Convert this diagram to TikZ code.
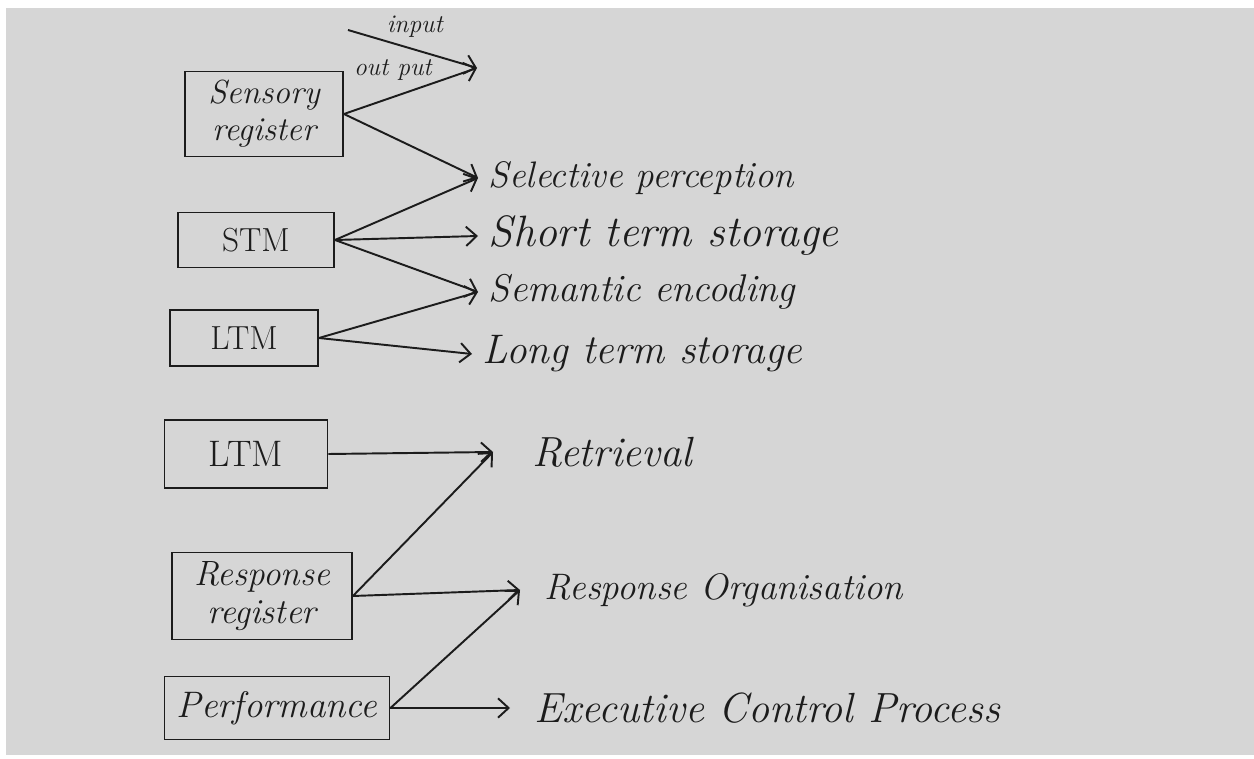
\documentclass[tikz,border=0pt]{standalone}
\usepackage{amsmath}
\usepackage{xcolor}
\usetikzlibrary{arrows.meta}
\definecolor{paper}{RGB}{214,214,214}
\definecolor{ink}{RGB}{28,28,28}
\begin{document}
\begin{tikzpicture}[x=0.02cm,y=-0.02cm,
  box/.style={draw=ink,line width=1.1pt,inner sep=2pt,align=center,text=ink},
  lab/.style={anchor=west,inner sep=2pt,inner xsep=6pt,text=ink},
  tag/.style={inner sep=1pt,text=ink,font=\fontsize{14.5}{17}\selectfont\itshape},
  arr/.style={-{Straight Barb[length=6pt,width=11pt]},line width=1.1pt,draw=ink}]
%\draw[step=50,gray,very thin] (0,0) grid (1254,759); %background grid
\useasboundingbox (0,0) rectangle (1254,759);
\fill[white] (0,0) rectangle (1254,759);
\fill[paper] (6,8) rectangle (1254,755);
%boxes
\node[box,minimum width=3.16cm,minimum height=1.7cm,font=\fontsize{19}{21}\selectfont\itshape] (sens) at (264,114) {Sensory\\register};
\node[box,minimum width=3.12cm,minimum height=1.1cm,font=\fontsize{19}{22}\selectfont] (stm) at (256,240) {STM};
\node[box,minimum width=2.96cm,minimum height=1.12cm,font=\fontsize{19}{22}\selectfont] (ltma) at (244,338) {LTM};
\node[box,minimum width=3.26cm,minimum height=1.36cm,font=\fontsize{21}{24}\selectfont] (ltmb) at (246,454) {LTM};
\node[box,minimum width=3.6cm,minimum height=1.74cm,font=\fontsize{20}{22}\selectfont\itshape] (resp) at (262,596) {Response\\register};
\node[box,minimum width=4.5cm,minimum height=1.26cm,font=\fontsize{21}{24}\selectfont\itshape] (perf) at (277,708) {Performance};
%stages
\node[lab,font=\fontsize{21}{25}\selectfont\itshape] (sel) at (478,178) {Selective perception};
\node[lab,font=\fontsize{25}{29}\selectfont\itshape] (sts) at (478,236) {Short term storage};
\node[lab,font=\fontsize{22}{26}\selectfont\itshape] (sem) at (478,292) {Semantic encoding};
\node[lab,font=\fontsize{23.5}{27}\selectfont\itshape] (lts) at (472,354) {Long term storage};
\node[lab,inner xsep=22pt,font=\fontsize{24}{28}\selectfont\itshape] (ret) at (493,452) {Retrieval};
\node[lab,inner xsep=14pt,font=\fontsize{21}{25}\selectfont\itshape] (org) at (520,590) {Response Organisation};
\node[lab,inner xsep=14pt,font=\fontsize{24}{28}\selectfont\itshape] (exe) at (510,708) {Executive Control Process};
%input and output
\coordinate (in) at (348,30);
\coordinate (io) at (477,68);
\draw[arr] (in) -- node[tag,pos=0.28,anchor=south west] {input} (io);
\draw[arr] (sens.east) -- node[tag,pos=0.68,anchor=south east] {out put} (io);
%arrows
\draw[arr] (sens.east) -- (sel.west);
\draw[arr] (stm.east) -- (sel.west);
\draw[arr] (stm.east) -- (sts.west);
\draw[arr] (stm.east) -- (sem.west);
\draw[arr] (ltma.east) -- (sem.west);
\draw[arr] (ltma.east) -- (lts.west);
\draw[arr] (ltmb.east) -- (ret.west);
\draw[arr] (resp.east) -- (ret.west);
\draw[arr] (resp.east) -- (org.west);
\draw[arr] (perf.east) -- (org.west);
\draw[arr] (perf.east) -- (exe.west);
\end{tikzpicture}
\end{document}
